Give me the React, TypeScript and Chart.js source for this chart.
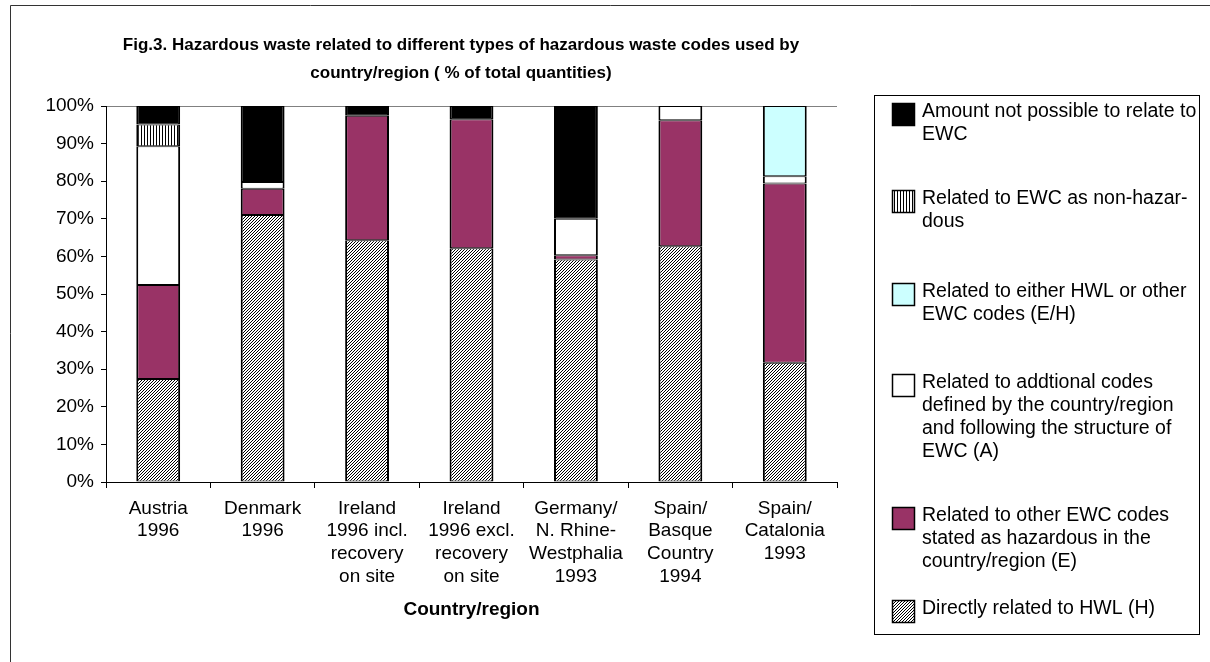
import React, { useEffect, useRef } from "react";
import { Chart, registerables } from "chart.js";

Chart.register(...registerables);

// ---------------- DATA ----------------
const TITLE_LINES = [
  "Fig.3. Hazardous waste related to different types of hazardous waste codes used by",
  "country/region ( % of total quantities)",
];
const X_TITLE = "Country/region";

const CATEGORIES: string[][] = [
  ["Austria", "1996"],
  ["Denmark", "1996"],
  ["Ireland", "1996 incl.", "recovery", "on site"],
  ["Ireland", "1996 excl.", "recovery", "on site"],
  ["Germany/", "N. Rhine-", "Westphalia", "1993"],
  ["Spain/", "Basque", "Country", "1994"],
  ["Spain/", "Catalonia", "1993"],
];

// Stack order bottom -> top
const H_VALUES = [27.4, 71.0, 64.3, 62.2, 59.2, 62.7, 31.7];
const E_VALUES = [25.0, 7.0, 33.1, 34.3, 1.1, 33.5, 47.7];
const A_VALUES = [36.9, 1.8, 0, 0, 9.7, 3.8, 1.9];
const EH_VALUES = [0, 0, 0, 0, 0, 0, 18.7];
const NH_VALUES = [5.8, 0, 0, 0, 0, 0, 0];
const NA_VALUES = [4.9, 20.2, 2.6, 3.5, 30.0, 0, 0];

const H_LABEL = ["Directly related to HWL (H)"];
const E_LABEL = ["Related to other EWC codes", "stated as hazardous in the", "country/region (E)"];
const A_LABEL = [
  "Related to addtional codes",
  "defined by the country/region",
  "and following the structure of",
  "EWC (A)",
];
const EH_LABEL = ["Related to either HWL or other", "EWC codes (E/H)"];
const NH_LABEL = ["Related to EWC as non-hazar-", "dous"];
const NA_LABEL = ["Amount not possible to relate to", "EWC"];

const Y_TICK_STEP = 10;
const Y_MAX = 100;

// ---------------- STYLE ----------------
const FONT = '"Liberation Sans", Arial, sans-serif';
const W = 1210;
const H = 662;

function makeHatch(): CanvasPattern | string {
  const n = 3;
  const c = document.createElement("canvas");
  c.width = n;
  c.height = n;
  const g = c.getContext("2d");
  if (!g) return "#a0a0a0";
  g.fillStyle = "#ffffff";
  g.fillRect(0, 0, n, n);
  g.fillStyle = "#000000";
  for (let i = 0; i < n; i++) g.fillRect(i, n - 1 - i, 1, 1);
  const p = g.createPattern(c, "repeat");
  return p || "#a0a0a0";
}

function makeVStripes(): CanvasPattern | string {
  const c = document.createElement("canvas");
  c.width = 3;
  c.height = 1;
  const g = c.getContext("2d");
  if (!g) return "#555";
  g.fillStyle = "#ffffff";
  g.fillRect(0, 0, 3, 1);
  g.fillStyle = "#000000";
  g.fillRect(0, 0, 1, 1);
  const p = g.createPattern(c, "repeat");
  return p || "#555";
}

// legend layout (line-1 centre y of each entry, top to bottom)
const LEGEND_BOX = { x: 874, y: 95, w: 325, h: 539 };
const LEGEND_Y = [112, 199, 292, 383, 516, 609];
const LEGEND_LINE_H = 23;

const framePlugin = {
  id: "frame",
  beforeDraw(chart: any) {
    const ctx = chart.ctx;
    ctx.save();
    ctx.strokeStyle = "#333";
    ctx.lineWidth = 1;
    ctx.beginPath();
    ctx.moveTo(10.5, H);
    ctx.lineTo(10.5, 5.5);
    ctx.lineTo(W, 5.5);
    ctx.stroke();
    ctx.restore();
  },
};

const titlePlugin = {
  id: "customTitle",
  afterDraw(chart: any) {
    const ctx = chart.ctx;
    ctx.save();
    ctx.fillStyle = "#000";
    ctx.font = `bold 17px ${FONT}`;
    ctx.textAlign = "center";
    ctx.textBaseline = "middle";
    const cx = 461;
    TITLE_LINES.forEach((t, i) => ctx.fillText(t, cx, 45 + i * 28));
    ctx.restore();
  },
};

const legendPlugin = {
  id: "customLegend",
  afterDraw(chart: any) {
    const ctx = chart.ctx;
    const ds = chart.data.datasets;
    ctx.save();
    ctx.strokeStyle = "#000";
    ctx.lineWidth = 1;
    ctx.strokeRect(LEGEND_BOX.x + 0.5, LEGEND_BOX.y + 0.5, LEGEND_BOX.w, LEGEND_BOX.h);
    const order = [5, 4, 3, 2, 1, 0];
    order.forEach((di, k) => {
      const d = ds[di];
      const y0 = LEGEND_Y[k];
      const sy = y0 + 2;
      ctx.fillStyle = d.backgroundColor;
      ctx.fillRect(892, sy - 11, 23, 23);
      ctx.strokeStyle = "#000";
      ctx.lineWidth = 1.5;
      ctx.strokeRect(892.5, sy - 10.5, 22, 22);
      ctx.fillStyle = "#000";
      ctx.font = `19.5px ${FONT}`;
      ctx.textAlign = "left";
      ctx.textBaseline = "middle";
      (d.labelLines as string[]).forEach((line: string, j: number) =>
        ctx.fillText(line, 922, y0 + j * LEGEND_LINE_H)
      );
    });
    ctx.restore();
  },
};

export default function App() {
  const ref = useRef<HTMLCanvasElement | null>(null);

  useEffect(() => {
    if (!ref.current) return;
    const hatch = makeHatch();
    const stripes = makeVStripes();
    const common = {
      borderColor: "#000",
      borderWidth: { top: 1, bottom: 1, left: 2, right: 2 },
      borderSkipped: false,
      categoryPercentage: 1,
      barPercentage: 0.42,
    };
    const chart = new Chart(ref.current, {
      type: "bar",
      data: {
        labels: CATEGORIES,
        datasets: [
          { ...common, label: H_LABEL.join(" "), labelLines: H_LABEL, data: H_VALUES, backgroundColor: hatch },
          { ...common, label: E_LABEL.join(" "), labelLines: E_LABEL, data: E_VALUES, backgroundColor: "#993366" },
          { ...common, label: A_LABEL.join(" "), labelLines: A_LABEL, data: A_VALUES, backgroundColor: "#ffffff" },
          { ...common, label: EH_LABEL.join(" "), labelLines: EH_LABEL, data: EH_VALUES, backgroundColor: "#ccffff" },
          { ...common, label: NH_LABEL.join(" "), labelLines: NH_LABEL, data: NH_VALUES, backgroundColor: stripes },
          { ...common, label: NA_LABEL.join(" "), labelLines: NA_LABEL, data: NA_VALUES, backgroundColor: "#000000" },
        ] as any,
      },
      options: {
        responsive: false,
        animation: false,
        events: [],
        layout: { padding: { left: 10, top: 106, right: W - 837, bottom: 0 } },
        plugins: {
          legend: { display: false },
          title: { display: false },
          tooltip: { enabled: false },
        },
        scales: {
          x: {
            stacked: true,
            offset: true,
            grid: {
              offset: true,
              drawOnChartArea: false,
              tickLength: 6,
              tickColor: "#000",
              color: "#000",
            },
            border: { display: true, color: "#000", width: 1 },
            ticks: {
              autoSkip: false,
              maxRotation: 0,
              minRotation: 0,
              color: "#000",
              padding: 9,
              font: { family: FONT, size: 19, lineHeight: 1.2 },
            },
            title: {
              display: true,
              text: X_TITLE,
              color: "#000",
              font: { family: FONT, size: 19, weight: "bold", lineHeight: 1.2 },
              padding: { top: 0, bottom: 41 },
            },
            afterFit: (s: any) => {
              s.height = H - 482;
            },
          },
          y: {
            stacked: true,
            min: 0,
            max: Y_MAX,
            grid: {
              drawOnChartArea: true,
              tickLength: 5,
              tickColor: "#000",
              color: (c: any) => (c.tick && c.tick.value === Y_MAX ? "#808080" : "rgba(0,0,0,0)"),
            },
            border: { display: true, color: "#000", width: 1 },
            ticks: {
              stepSize: Y_TICK_STEP,
              color: "#000",
              padding: 7,
              font: { family: FONT, size: 19 },
              callback: (v: any) => `${v}%`,
            },
            afterFit: (s: any) => {
              s.width = 96;
            },
          },
        },
      } as any,
      plugins: [framePlugin, titlePlugin, legendPlugin],
    });
    return () => chart.destroy();
  }, []);

  return (
    <div style={{ position: "fixed", left: 0, top: 0, width: W, height: H, background: "#fff" }}>
      <canvas ref={ref} width={W} height={H} style={{ display: "block", width: W, height: H }} />
    </div>
  );
}
